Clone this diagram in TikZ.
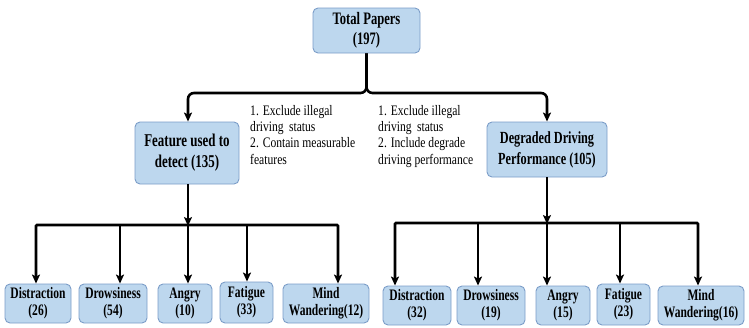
\documentclass[tikz,border=0pt]{standalone}
\usepackage{fontspec}
\setmainfont{Liberation Serif}[FakeStretch=0.72]
\newfontfamily\notefont{Liberation Serif}[FakeStretch=0.8]
\usetikzlibrary{arrows.meta}
\definecolor{boxfill}{HTML}{BDD7EE}
\definecolor{boxline}{HTML}{7B9DC8}
\begin{document}
\begin{tikzpicture}[x=1pt,y=-1pt,
  box/.style={draw=boxline, fill=boxfill, rounded corners=5pt, line width=0.9pt,
    align=center, inner sep=0pt, font=\bfseries\fontsize{16}{17}\selectfont},
  bigbox/.style={box, font=\bfseries\fontsize{18}{21}\selectfont},
  link/.style={line width=2.6pt, black},
  arr/.style={link, -{Stealth[length=9pt,width=8pt,inset=2pt]}},
  note/.style={align=left, anchor=north west, inner sep=0pt,
    font=\notefont\fontsize{14.5}{16.3}\selectfont}]
\useasboundingbox (0,0) rectangle (749,327);

% top level
\node[box, font=\bfseries\fontsize{17.5}{19.5}\selectfont, minimum width=107pt, minimum height=45pt]
  (top) at (366.5,30.5) {Total Papers\\(197)};

% second level
\node[bigbox, minimum width=104pt, minimum height=62pt] (lm) at (187,153) {Feature used to\\detect (135)};
\node[bigbox, font=\bfseries\fontsize{17}{21}\selectfont, minimum width=120pt, minimum height=55pt]
  (rm) at (547,149.5) {Degraded Driving\\Performance (105)};

% selection criteria
\node[note] (nl) at (250,105) {1. Exclude illegal\\driving\, status\\2. Contain measurable\\features};
\node[note] (nr) at (378,105) {1. Exclude illegal\\driving\, status\\2. Include degrade\\driving performance};

% third level, left branch
\node[box, minimum width=66pt, minimum height=39pt] (d1) at (38,303.5)  {Distraction\\(26)};
\node[box, minimum width=68pt, minimum height=39pt] (w1) at (113,303.5) {Drowsiness\\(54)};
\node[box, minimum width=54pt, minimum height=39pt] (a1) at (185,303.5) {Angry\\(10)};
\node[box, minimum width=53pt, minimum height=41pt] (f1) at (246.5,302.5) {Fatigue\\(33)};
\node[box, minimum width=86pt, minimum height=39pt] (m1) at (326,303.5) {Mind\\Wandering(12)};

% third level, right branch
\node[box, minimum width=68pt, minimum height=39pt] (d2) at (417,305.5) {Distraction\\(32)};
\node[box, minimum width=68pt, minimum height=39pt] (w2) at (491,305.5) {Drowsiness\\(19)};
\node[box, minimum width=54pt, minimum height=39pt] (a2) at (563,305.5) {Angry\\(15)};
\node[box, minimum width=53pt, minimum height=41pt] (f2) at (623.5,304.5) {Fatigue\\(23)};
\node[box, minimum width=86pt, minimum height=39pt] (m2) at (701,305.5) {Mind\\Wandering(16)};

% junction points
\coordinate (hub) at (366.5,93);
\coordinate (lbar) at (187,225);
\coordinate (rbar) at (547,223);

% top split
\draw[arr, rounded corners=6pt] (top.south) -- (top.south |- hub) -| ([xshift=1pt]lm.north);
\draw[arr, rounded corners=6pt] (top.south) -- (top.south |- hub) -| (rm.north);

% left branch
\draw[arr] ([xshift=1pt]lm.south) -- ([xshift=1pt,yshift=-1pt]lm.south |- lbar);
\draw[link, line cap=butt] ([xshift=-2pt]d1.north |- lbar) -- ([xshift=12pt]m1.north |- lbar);
\draw[arr, rounded corners=1pt] (lbar) -| ([xshift=-2pt]d1.north);
\draw[arr] ([xshift=7pt]w1.north |- lbar) -- ([xshift=7pt]w1.north);
\draw[arr] ([xshift=1pt]lm.south |- lbar) -- ([xshift=3pt]a1.north);
\draw[arr] ([xshift=0.5pt]f1.north |- lbar) -- ([xshift=0.5pt]f1.north);
\draw[arr, rounded corners=1pt] (lbar) -| ([xshift=12pt]m1.north);

% right branch
\draw[arr] (rm.south) -- ([yshift=-1pt]rm.south |- rbar);
\draw[arr, rounded corners=1pt] (rbar) -| ([xshift=-22pt]d2.north);
\draw[arr] ([xshift=-13pt]w2.north |- rbar) -- ([xshift=-13pt]w2.north);
\draw[arr] (rm.south |- rbar) -- ([xshift=-16pt]a2.north);
\draw[arr] ([xshift=-3.5pt]f2.north |- rbar) -- ([xshift=-3.5pt]f2.north);
\draw[arr, rounded corners=1pt] (rbar) -| ([xshift=-3pt]m2.north);
\end{tikzpicture}
\end{document}
